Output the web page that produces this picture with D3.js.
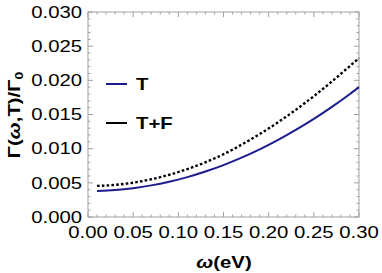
<!DOCTYPE html>
<html><head><meta charset="utf-8">
<script src="https://cdn.jsdelivr.net/npm/d3@7"></script>
<style>body{margin:0;background:#fff}svg{display:block}text{font-family:"Liberation Sans",Arial,sans-serif}</style>
</head><body>
<script>
const omega = [0.01,0.03,0.05,0.07,0.09,0.11,0.13,0.15,0.17,0.19,0.21,0.23,0.25,0.27,0.29,0.30];
const gammaT = [0.00382,0.00395,0.00422,0.00463,0.00517,0.00584,0.00666,0.00760,0.00868,0.00990,0.01125,0.01274,0.01436,0.01612,0.01801,0.01901];
const gammaTF = [0.00455,0.00470,0.00502,0.00552,0.00618,0.00701,0.00801,0.00918,0.01058,0.01213,0.01383,0.01568,0.01768,0.01983,0.02210,0.02325];
const xTicks = [0.00,0.05,0.10,0.15,0.20,0.25,0.30];
const xTickLabels = ["0.00","0.05","0.10","0.15","0.20","0.25","0.30"];
const yTicks = [0.000,0.005,0.010,0.015,0.020,0.025,0.030];
const yTickLabels = ["0.000","0.005","0.010","0.015","0.020","0.025","0.030"];
const seriesNames = ["T","T+F"];

const W=382,H=273, SX=1.27, FS=16;
const svg=d3.select("body").append("svg").attr("width",W).attr("height",H);
const x=d3.scaleLinear().domain([0,0.30]).range([88,359]);
const y=d3.scaleLinear().domain([0,0.030]).range([217,12]);
const frameCol="#a0a0a0";

svg.append("rect").attr("x",x(0)).attr("y",y(0.03)).attr("width",x(0.3)-x(0)).attr("height",y(0)-y(0.03))
  .attr("fill","none").attr("stroke",frameCol).attr("stroke-width",1);

const xMinor=d3.range(0,31).map(i=>i/100);
const yMinor=d3.range(0,31).map(i=>i/1000);
const tg=svg.append("g").attr("stroke",frameCol).attr("stroke-width",1);
xMinor.forEach((v,i)=>{
  const L = i%5===0?5:2.5;
  tg.append("line").attr("x1",x(v)).attr("x2",x(v)).attr("y1",y(0)).attr("y2",y(0)-L);
  tg.append("line").attr("x1",x(v)).attr("x2",x(v)).attr("y1",y(0.03)).attr("y2",y(0.03)+L);
});
yMinor.forEach((v,i)=>{
  const L = i%5===0?5:2.5;
  tg.append("line").attr("y1",y(v)).attr("y2",y(v)).attr("x1",x(0)).attr("x2",x(0)+L);
  tg.append("line").attr("y1",y(v)).attr("y2",y(v)).attr("x1",x(0.3)).attr("x2",x(0.3)-L);
});

xTicks.forEach((v,i)=>{
  svg.append("text").attr("transform",`translate(${x(v)},238) scale(${SX},1)`)
    .attr("text-anchor","middle").attr("font-size",FS).attr("fill","#000").text(xTickLabels[i]);
});
yTicks.forEach((v,i)=>{
  svg.append("text").attr("transform",`translate(82,${y(v)+5.7}) scale(${SX},1)`)
    .attr("text-anchor","end").attr("font-size",FS).attr("fill","#000").text(yTickLabels[i]);
});

const lineGen=d3.line().x(d=>x(d[0])).y(d=>y(d[1])).curve(d3.curveMonotoneX);
svg.append("path").datum(omega.map((w,i)=>[w,gammaT[i]])).attr("d",lineGen)
  .attr("fill","none").attr("stroke","#1c1c8f").attr("stroke-width",2);
svg.append("path").datum(omega.map((w,i)=>[w,gammaTF[i]])).attr("d",lineGen)
  .attr("fill","none").attr("stroke","#000").attr("stroke-width",2.4).attr("stroke-dasharray","2.6,2.2");

const legY=[84,123], legCol=["#1c1c8f","#000"];
seriesNames.forEach((n,i)=>{
  svg.append("line").attr("x1",106).attr("x2",127).attr("y1",legY[i]).attr("y2",legY[i])
    .attr("stroke",legCol[i]).attr("stroke-width",2);
  svg.append("text").attr("transform",`translate(136,${legY[i]+5.5}) scale(${SX},1)`)
    .attr("font-size",FS).attr("font-weight","bold").attr("fill","#000").text(n);
});

const xt=svg.append("text").attr("transform",`translate(224,268) scale(${SX},1)`)
  .attr("text-anchor","middle").attr("font-size",FS).attr("font-weight","bold");
xt.append("tspan").attr("font-style","italic").text("ω");
xt.append("tspan").text("(eV)");

const yt=svg.append("text").attr("transform",`translate(20,115) rotate(-90) scale(${SX},1)`)
  .attr("text-anchor","middle").attr("font-size",FS).attr("font-weight","bold");
yt.append("tspan").text("Γ(");
yt.append("tspan").attr("font-style","italic").text("ω");
yt.append("tspan").text(",T)/Γ");
yt.append("tspan").attr("font-size",11).attr("dy",3).text("0");
</script>
</body></html>
